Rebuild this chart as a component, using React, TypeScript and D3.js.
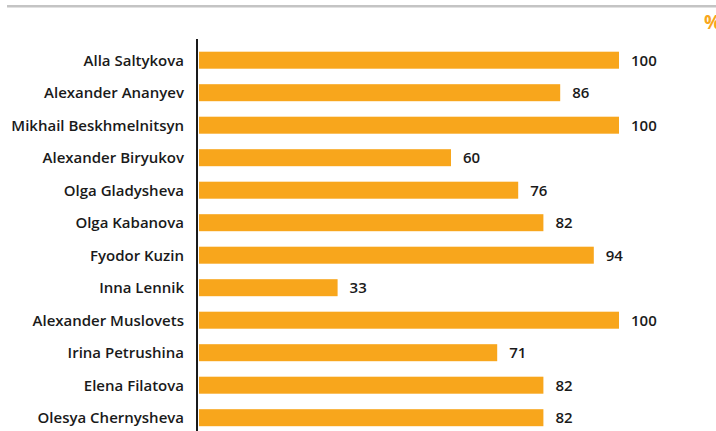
import React from "react";
import * as d3 from "d3";

const names = [
  "Alla Saltykova",
  "Alexander Ananyev",
  "Mikhail Beskhmelnitsyn",
  "Alexander Biryukov",
  "Olga Gladysheva",
  "Olga Kabanova",
  "Fyodor Kuzin",
  "Inna Lennik",
  "Alexander Muslovets",
  "Irina Petrushina",
  "Elena Filatova",
  "Olesya Chernysheva",
];
const values = [100, 86, 100, 60, 76, 82, 94, 33, 100, 71, 82, 82];
const unitLabel = "%";

const W = 716;
const H = 431;
const FONT = "'Open Sans', Roboto, sans-serif";
const ORANGE = "#F8A61C";

export default function App() {
  const x = d3.scaleLinear().domain([0, 100]).range([199, 619]);
  const step = 32.5;
  const pin = 0.477;
  const y0 = 51.7 - (pin / 2) * step;
  const y = d3
    .scaleBand<string>()
    .domain(names)
    .range([y0, y0 + names.length * step])
    .paddingInner(pin)
    .paddingOuter(pin / 2);

  return (
    <svg
      width={W}
      height={H}
      style={{ position: "absolute", left: 0, top: 0, display: "block" }}
      fontFamily={FONT}
    >
      <rect width={W} height={H} fill="#fff" />
      <line x1={7} x2={W} y1={6.2} y2={6.2} stroke="#c4c4c4" strokeWidth={2.5} />
      <text x={704} y={29} fill={ORANGE} fontSize={19} fontWeight={700}>
        {unitLabel}
      </text>
      {names.map((n, i) => {
        const yy = y(n)!;
        const bw = y.bandwidth();
        return (
          <g key={n}>
            <rect x={x(0)} y={yy} width={x(values[i]) - x(0)} height={bw} fill={ORANGE} />
            <text
              x={184}
              y={yy + bw / 2}
              dy="0.36em"
              textAnchor="end"
              fontSize={15}
              fontWeight={600}
              fill="#1a1a1a"
            >
              {n}
            </text>
            <text
              x={x(values[i]) + 12}
              y={yy + bw / 2}
              dy="0.36em"
              fontSize={15}
              fontWeight={600}
              fill="#1a1a1a"
            >
              {values[i]}
            </text>
          </g>
        );
      })}
      <line x1={197} x2={197} y1={39} y2={H} stroke="#1a1a1a" strokeWidth={2} />
    </svg>
  );
}
